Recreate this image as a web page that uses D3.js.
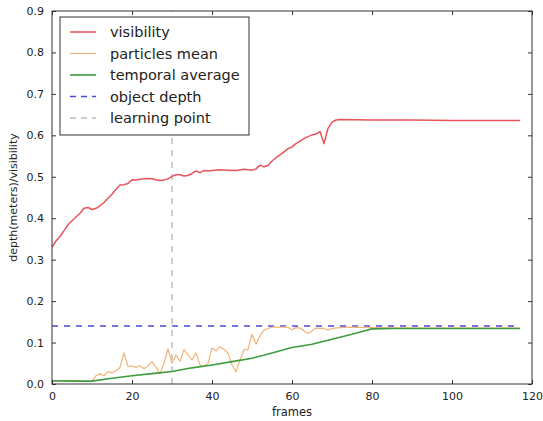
<!DOCTYPE html>
<html>
<head>
<meta charset="utf-8">
<script src="https://cdn.jsdelivr.net/npm/d3@7"></script>
<style>
  html, body { margin: 0; padding: 0; background: #fff; }
  text { font-family: "DejaVu Sans", sans-serif; fill: #222; }
</style>
</head>
<body>
<svg id="chart" width="543" height="421"></svg>
<script>
// ---- data ----
const xTicks = [0, 20, 40, 60, 80, 100, 120];
const yTicks = [0.0, 0.1, 0.2, 0.3, 0.4, 0.5, 0.6, 0.7, 0.8, 0.9];

const visFrames = [0,1,2,3,4,5,6,7,8,9,10,11,12,13,14,15,16,17,18,19,20,21,22,23,24,25,26,27,28,29,30,31,32,33,34,35,36,37,38,39,40,42,44,46,48,50,51,52,53,54,55,56,57,58,59,60,61,62,63,64,65,66,67,68,69,70,71,72,80,90,100,110,117];
const visValues = [0.330,0.345,0.356,0.370,0.384,0.394,0.403,0.412,0.424,0.426,0.421,0.424,0.430,0.438,0.448,0.458,0.470,0.480,0.481,0.484,0.493,0.492,0.494,0.495,0.496,0.495,0.493,0.491,0.492,0.495,0.501,0.505,0.505,0.502,0.503,0.508,0.514,0.510,0.515,0.514,0.515,0.517,0.516,0.515,0.518,0.516,0.519,0.528,0.524,0.527,0.538,0.546,0.553,0.560,0.568,0.572,0.580,0.586,0.592,0.597,0.601,0.603,0.609,0.580,0.617,0.632,0.637,0.638,0.637,0.637,0.636,0.636,0.636];

const pmFrames = [0,5,10,11,12,13,14,15,16,17,18,19,20,21,22,23,24,25,26,27,28,29,30,31,32,33,34,35,36,37,38,39,40,41,42,43,44,45,46,47,48,49,50,51,52,53,54,55,57,59,60,61,62,63,64,65,66,68,69,70,72,75,80,90,100,110,117];
const pmValues = [0.008,0.008,0.006,0.020,0.025,0.020,0.030,0.027,0.032,0.040,0.075,0.042,0.044,0.040,0.044,0.037,0.044,0.054,0.040,0.025,0.050,0.085,0.050,0.070,0.055,0.083,0.070,0.058,0.075,0.046,0.042,0.050,0.087,0.080,0.090,0.083,0.075,0.046,0.030,0.058,0.083,0.083,0.120,0.096,0.116,0.130,0.134,0.137,0.137,0.137,0.131,0.136,0.135,0.128,0.122,0.128,0.135,0.134,0.130,0.134,0.136,0.137,0.136,0.135,0.135,0.135,0.135];

const taFrames = [0,5,10,15,20,25,30,35,40,45,50,55,60,65,70,75,78,80,85,90,100,110,117];
const taValues = [0.008,0.007,0.007,0.014,0.020,0.025,0.030,0.039,0.046,0.054,0.062,0.075,0.088,0.096,0.108,0.120,0.128,0.133,0.134,0.134,0.134,0.134,0.134];

const objectDepth = 0.14;
const depthRange = [0, 117];
const learningPoint = 30;

const legendLabels = ["visibility", "particles mean", "temporal average", "object depth", "learning point"];
const colors = { vis: "#e8535b", pm: "#f3b37a", ta: "#3e9b3e", od: "#4a4ad8", lp: "#bdbdbd" };

// ---- layout ----
const svg = d3.select("#chart");
const L = 52, T = 11, W = 480, H = 373;
const x = d3.scaleLinear().domain([0, 120]).range([L, L + W]);
const y = d3.scaleLinear().domain([0, 0.9]).range([T + H, T]);

const clipId = "plotclip";
svg.append("clipPath").attr("id", clipId).append("rect")
  .attr("x", L).attr("y", T).attr("width", W).attr("height", H);
const plot = svg.append("g").attr("clip-path", `url(#${clipId})`);

// learning point (vertical)
plot.append("line")
  .attr("x1", x(learningPoint)).attr("x2", x(learningPoint))
  .attr("y1", y(0)).attr("y2", y(0.9))
  .attr("stroke", colors.lp).attr("stroke-width", 1.5).attr("stroke-dasharray", "6,6");

// object depth
plot.append("line")
  .attr("x1", x(depthRange[0])).attr("x2", x(depthRange[1]))
  .attr("y1", y(objectDepth)).attr("y2", y(objectDepth))
  .attr("stroke", colors.od).attr("stroke-width", 1.5).attr("stroke-dasharray", "6,6");

const line = d3.line().x(d => x(d[0])).y(d => y(d[1]));
function drawSeries(frames, values, color, w) {
  plot.append("path")
    .datum(frames.map((f, i) => [f, values[i]]))
    .attr("d", line).attr("fill", "none")
    .attr("stroke", color).attr("stroke-width", w).attr("stroke-linejoin", "round");
}
drawSeries(pmFrames, pmValues, colors.pm, 1.2);
drawSeries(taFrames, taValues, colors.ta, 1.6);
drawSeries(visFrames, visValues, colors.vis, 1.5);

// ---- axes ----
const fmtY = d3.format(".1f");
const axL = svg.append("g").attr("transform", `translate(${L},0)`)
  .call(d3.axisLeft(y).tickValues(yTicks).tickFormat(fmtY).tickSizeInner(-4).tickSizeOuter(0).tickPadding(8));
const axR = svg.append("g").attr("transform", `translate(${L + W},0)`)
  .call(d3.axisRight(y).tickValues(yTicks).tickFormat("").tickSizeInner(-4).tickSizeOuter(0));
const axB = svg.append("g").attr("transform", `translate(0,${T + H})`)
  .call(d3.axisBottom(x).tickValues(xTicks).tickFormat(d3.format("d")).tickSizeInner(-4).tickSizeOuter(0).tickPadding(8));
const axT = svg.append("g").attr("transform", `translate(0,${T})`)
  .call(d3.axisTop(x).tickValues(xTicks).tickFormat("").tickSizeInner(-4).tickSizeOuter(0));
[axL, axR, axB, axT].forEach(a => {
  a.select(".domain").remove();
  a.selectAll(".tick line").attr("stroke", "#333");
  a.selectAll("text").attr("font-family", "DejaVu Sans").attr("font-size", 11).attr("fill", "#222");
});

svg.append("rect").attr("x", L).attr("y", T).attr("width", W).attr("height", H)
  .attr("fill", "none").attr("stroke", "#333").attr("stroke-width", 1);

svg.append("text").attr("x", L + W / 2).attr("y", 416).attr("text-anchor", "middle")
  .attr("font-size", 11.5).text("frames");
svg.append("text").attr("transform", `translate(17,${T + H / 2}) rotate(-90)`)
  .attr("text-anchor", "middle").attr("font-size", 11).text("depth(meters)/visibility");

// ---- legend ----
const lg = svg.append("g");
lg.append("rect").attr("x", 60).attr("y", 17).attr("width", 189).attr("height", 118)
  .attr("fill", "#fff").attr("stroke", "#333").attr("stroke-width", 1);
const legendStyles = [
  { c: colors.vis, dash: null, w: 1.5 },
  { c: colors.pm, dash: null, w: 1.2 },
  { c: colors.ta, dash: null, w: 1.6 },
  { c: colors.od, dash: "6,5", w: 1.5 },
  { c: colors.lp, dash: "6,5", w: 1.5 }
];
const ly = d3.scalePoint().domain(legendLabels).range([32, 118]);
legendLabels.forEach((lab, i) => {
  const yy = ly(lab);
  const s = legendStyles[i];
  lg.append("line").attr("x1", 70).attr("x2", 96).attr("y1", yy).attr("y2", yy)
    .attr("stroke", s.c).attr("stroke-width", s.w).attr("stroke-dasharray", s.dash);
  lg.append("text").attr("x", 110).attr("y", yy).attr("dy", "0.35em")
    .attr("font-size", 14.5).text(lab);
});
</script>
</body>
</html>
